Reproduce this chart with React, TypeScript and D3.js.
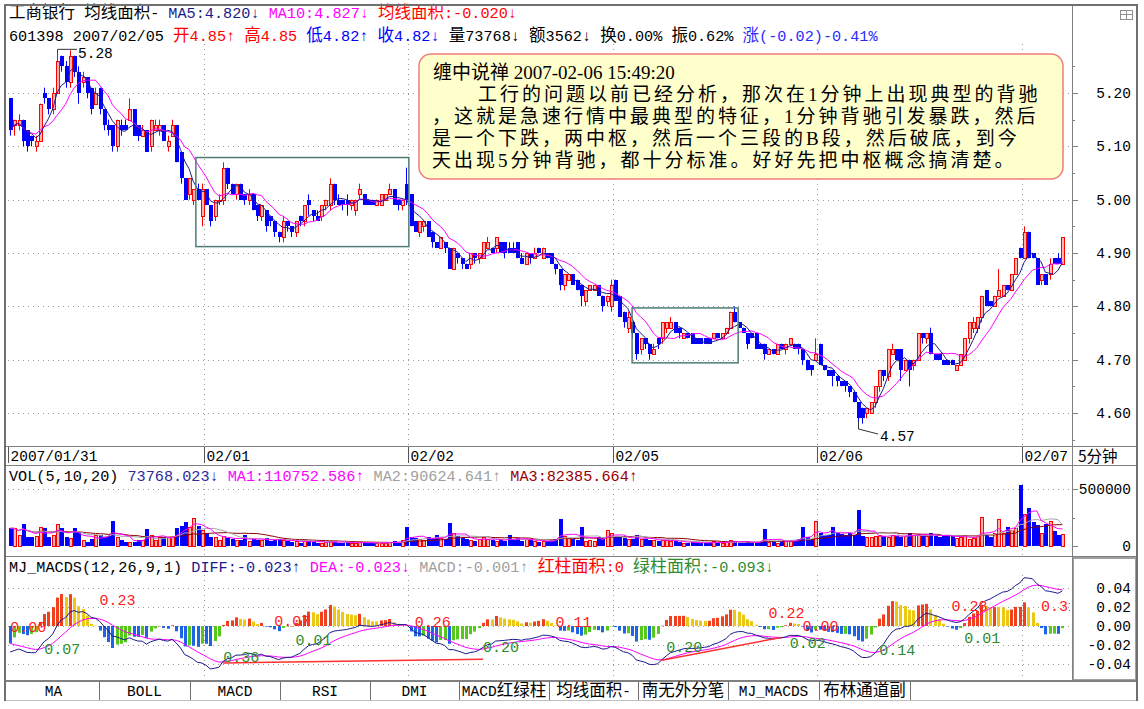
import React from "react";
import * as d3 from "d3";

// ---------- DATA (prices in cents) ----------
const OPEN = [519,514,514,515,513,512,510,511,520,519,517,520,527,525,522,527,524,522,523,521,518,521,517,514,514,510,514,514,515,517,514,512,513,510,513,513,514,510,512,514,509,504,501,500,502,497,502,499,497,500,500,506,503,501,503,501,500,501,499,497,498,497,496,494,493,496,495,494,497,496,500,498,497,497,499,499,503,500,500,500,499,498,501,501,500,500,499,499,500,501,502,500,499,503,501,496,494,495,496,494,492,491,492,491,487,490,489,488,488,490,489,489,491,491,491,492,492,491,491,492,489,488,490,489,491,489,490,490,488,487,484,485,486,485,484,481,483,483,484,482,481,480,485,482,479,476,477,475,472,474,473,471,474,474,476,476,477,476,474,475,475,474,474,474,474,474,475,474,475,476,479,477,476,475,475,475,473,473,471,472,471,473,472,473,473,473,472,470,469,470,473,469,468,468,467,466,466,465,464,462,461,460,460,462,465,468,467,471,472,472,468,470,469,470,475,474,475,471,471,470,470,470,468,469,470,474,476,476,478,483,481,480,482,482,484,483,486,491,489,494,490,489,485,486,486,489,489,488];
const HIGH = [519,515,516,515,513,512,512,518,521,519,521,528,527,526,528,527,525,524,523,521,521,521,517,515,514,515,515,515,519,517,514,514,513,515,515,515,514,512,515,514,509,504,504,502,503,503,502,499,500,501,507,506,503,503,503,501,502,501,499,499,498,497,496,494,497,496,495,496,497,499,501,498,498,499,500,504,503,501,500,501,500,500,503,501,500,500,500,501,501,503,502,500,500,506,501,496,496,496,496,494,492,493,492,491,491,490,489,488,490,490,490,492,493,491,493,492,492,492,492,492,490,490,490,491,491,491,490,490,488,487,486,486,486,485,484,483,484,484,484,482,482,485,485,482,479,479,477,475,474,474,473,473,474,477,477,478,477,476,475,475,475,474,474,474,474,475,475,475,476,479,480,477,476,475,475,475,473,473,472,472,473,473,473,474,473,473,472,470,469,474,473,469,468,468,467,466,466,465,464,462,461,461,462,465,468,468,472,473,472,472,470,470,470,475,475,475,476,471,471,470,470,470,469,471,474,477,478,478,482,483,481,482,487,484,484,486,489,491,495,494,490,489,486,486,489,489,490,493];
const LOW = [512,512,513,510,509,510,509,511,518,516,516,520,524,521,521,523,518,521,519,516,518,516,513,512,509,509,512,513,515,512,511,512,509,509,513,512,511,509,512,507,503,500,500,499,500,495,499,495,496,499,499,502,501,500,500,499,499,498,496,496,494,495,493,492,492,494,493,493,495,495,497,496,496,496,498,498,499,499,498,497,498,497,500,499,499,499,499,499,500,501,499,498,498,499,495,494,493,494,493,491,491,491,490,487,487,488,487,487,487,488,488,489,491,490,490,490,489,490,490,489,488,488,488,489,490,489,489,488,486,483,483,485,484,483,480,480,483,483,482,479,480,479,481,478,476,475,474,470,471,472,470,471,472,473,475,476,475,474,474,474,473,473,473,473,473,474,474,474,475,476,477,476,475,472,474,472,472,470,471,471,471,472,471,473,472,471,469,468,467,470,469,468,467,465,465,465,464,463,462,457,458,459,460,461,464,466,466,471,470,466,468,465,468,470,473,473,471,470,470,469,469,469,468,469,470,473,475,475,477,480,480,480,482,482,483,483,486,489,489,489,489,484,484,484,485,488,488,488];
const CLOSE = [513,515,515,511,510,511,511,518,519,517,520,526,525,522,527,524,520,523,520,517,520,517,514,513,510,515,513,513,517,512,512,513,509,515,514,514,511,511,514,507,504,500,504,502,500,502,499,496,500,500,506,503,501,503,500,500,501,498,497,499,495,496,494,493,496,495,494,496,496,499,499,497,496,499,500,503,500,499,499,499,500,500,502,499,499,499,500,501,501,502,499,499,500,500,495,494,496,496,493,492,491,493,491,487,491,489,488,487,490,489,490,492,492,490,493,490,490,490,490,489,488,490,489,490,490,491,489,488,487,484,486,486,484,483,482,483,484,484,482,480,482,484,481,478,477,478,475,471,474,473,471,472,473,477,477,477,475,475,475,474,473,473,473,473,473,475,474,475,476,479,477,476,475,473,474,472,472,471,472,471,473,472,473,474,472,472,470,468,468,471,469,468,467,467,466,465,465,464,462,459,459,461,462,465,468,467,472,472,470,468,470,468,470,475,474,475,471,470,470,469,469,469,469,471,474,477,477,478,482,480,480,482,483,484,483,486,489,489,494,489,489,484,486,484,488,488,488,493];
// volume in thousands of shares
const VOLUME_K = [155,155,96,193,82,82,90,164,155,76,96,190,155,82,67,155,126,53,38,58,96,96,76,88,219,82,53,38,38,38,53,53,146,96,53,76,76,76,76,155,175,213,164,243,175,140,111,82,82,53,90,70,60,55,50,96,45,60,55,50,70,45,50,60,55,40,35,45,30,50,45,35,30,28,32,45,40,30,28,32,25,28,35,30,25,28,22,30,28,35,40,30,50,164,80,70,60,55,75,60,95,70,65,199,110,85,70,60,55,45,60,75,65,55,45,50,40,96,55,70,45,60,55,40,35,45,40,50,60,234,90,70,60,55,164,45,50,40,75,70,140,110,90,75,70,60,60,96,65,60,55,50,45,55,50,45,40,35,30,30,35,25,25,30,28,40,30,25,35,55,40,30,30,40,28,30,38,146,35,40,30,45,55,40,45,60,164,75,60,222,110,100,96,164,110,105,96,110,96,316,90,80,75,90,96,88,80,96,90,80,85,111,96,105,90,88,111,90,80,85,96,90,70,75,96,60,70,90,251,96,80,110,234,110,164,140,160,535,281,330,213,184,111,193,222,134,96,105];

const DAY_LABELS = ["2007/01/31", "02/01", "02/02", "02/05", "02/06", "02/07"];
const DAY_START = [0, 46, 94, 142, 190, 238];
const PRICE_TICKS = [4.6, 4.7, 4.8, 4.9, 5.0, 5.1, 5.2];
const PRICE_MINOR = [4.55, 4.65, 4.75, 4.85, 4.95, 5.05, 5.15, 5.25];
const VOL_TICKS = [0, 500000];
const MACD_TICKS = [-0.04, -0.02, 0, 0.02, 0.04];
// pivot boxes: [startSlot, endSlot, top price, bottom price]
const PIVOT_BOXES = [[44.1, 94.1, 5.079, 4.912], [146.5, 171.4, 4.797, 4.694]];
// EMA12, EMA26, DEA at the start of the window
const MACD_SEED = [5.16, 5.187, -0.016];
// divergence lines: [bar, value, bar, value]
const DIVERGENCE = [[50, -0.039, 111, -0.035], [153, -0.036, 181, -0.012]];
const MACD_LABELS: [string, number, number, string][] = [
  ["0.00", 0, -0.001, "r"], ["0.07", 8, -0.024, "g"], ["0.23", 21, 0.027, "r"],
  ["0.36", 50, -0.033, "g"], ["0.07", 62, 0.005, "r"], ["0.01", 67, -0.015, "g"],
  ["0.26", 95, 0.004, "r"], ["0.20", 111, -0.022, "g"], ["0.11", 128, 0.004, "r"],
  ["0.20", 154, -0.022, "g"], ["0.22", 178, 0.014, "r"], ["0.02", 183, -0.0175, "g"],
  ["0.00", 186, 0.0, "r"], ["0.14", 204, -0.025, "g"], ["0.28", 221, 0.021, "r"],
  ["0.01", 224, -0.013, "g"], ["0.31", 242, 0.021, "r"],
];
const HEADER1: [string, string][] = [["工商银行 均线面积- ", "#000"], ["MA5:4.820↓ ", "#1a1a8c"], ["MA10:4.827↓ ", "#ff00ff"], ["均线面积:-0.020↓", "#ff0000"]];
const HEADER2: [string, string][] = [["601398 2007/02/05 ", "#000"], ["开4.85↑ 高4.85 ", "#ff0000"], ["低4.82↑ 收4.82↓ ", "#0000ff"], ["量73768↓ 额3562↓ 换0.00% 振0.62% ", "#000"], ["涨(-0.02)-0.41%", "#2a2aff"]];
const VOL_HEADER: [string, string][] = [["VOL(5,10,20) ", "#000"], ["73768.023↓ ", "#2c2c9c"], ["MA1:110752.586↑ ", "#ff00ff"], ["MA2:90624.641↑ ", "#a0a0a0"], ["MA3:82385.664↑", "#9a0000"]];
const MACD_HEADER: [string, string][] = [["MJ_MACDS(12,26,9,1) ", "#000"], ["DIFF:-0.023↑ ", "#1a1a8c"], ["DEA:-0.023↓ ", "#ff00ff"], ["MACD:-0.001↑ ", "#a0a0a0"], ["红柱面积:0 ", "#ff0000"], ["绿柱面积:-0.093↓", "#2e8b2e"]];
const TABS = ["MA", "BOLL", "MACD", "RSI", "DMI", "MACD红绿柱", "均线面积-", "南无外分笔", "MJ_MACDS", "布林通道副"];
const TAB_EDGES = [8, 99, 190, 280, 370, 459, 549, 638, 728, 819, 910];
const NOTE_LINES = [
  "缠中说禅 2007-02-06 15:49:20",
  "工行的问题以前已经分析，那次在1分钟上出现典型的背驰",
  "，这就是急速行情中最典型的特征，1分钟背驰引发暴跌，然后",
  "是一个下跌，两中枢，然后一个三段的B段，然后破底，到今",
  "天出现5分钟背驰，都十分标准。好好先把中枢概念搞清楚。",
];

const MONO = "'Liberation Mono','DejaVu Sans Mono',monospace";
const CJK = "'Noto Sans CJK SC',sans-serif";
const SERIF = "'Liberation Serif','Noto Sans CJK SC',serif";
const GRID = "#9a9a9a";
const FRAME = "#808080";
const RED = "#ff0000";
const PINK = "#ffb4b4";
const BLUE = "#0000ff";
const CJK_RE = /[\u3000-\u9fff\uff00-\uffef]/;

function sma(arr: number[], n: number) {
  return arr.map((_, i) => d3.mean(arr.slice(Math.max(0, i - n + 1), i + 1)) as number);
}

// split a label into latin / CJK runs so each gets its own font
function runs(s: string, fill: string, ascii: number, cjk: number, key: string) {
  const parts = s.match(/[\u3000-\u9fff\uff00-\uffef]+|[^\u3000-\u9fff\uff00-\uffef]+/g) || [];
  return parts.map((p, k) => {
    const isC = CJK_RE.test(p[0]);
    return (
      <tspan key={key + k} fill={fill} fontSize={isC ? cjk : ascii} fontFamily={isC ? CJK : MONO}>{p}</tspan>
    );
  });
}

export default function App() {
  const N = CLOSE.length;
  const SLOT = 4.26;
  const xs = d3.scaleLinear().domain([0, N]).range([8, 8 + N * SLOT]);
  const cx = (i: number) => Math.round(xs(i + 0.5));
  const yP = d3.scaleLinear().domain([4.6, 5.2]).range([413, 93]);
  const yV = d3.scaleLinear().domain([0, 500000]).range([546, 489]);
  const yM = d3.scaleLinear().domain([-0.04, 0.04]).range([664, 588]);

  const o = OPEN.map((v) => v / 100);
  const h = HIGH.map((v) => v / 100);
  const l = LOW.map((v) => v / 100);
  const c = CLOSE.map((v) => v / 100);
  const vol = VOLUME_K.map((v) => v * 1000);
  const ma5 = sma(c, 5);
  const ma10 = sma(c, 10);
  const vma5 = sma(vol, 5);
  const vma10 = sma(vol, 10);
  const vma20 = sma(vol, 20);

  let e12 = MACD_SEED[0], e26 = MACD_SEED[1], dea = MACD_SEED[2];
  const diff: number[] = [], deaA: number[] = [], macd: number[] = [];
  c.forEach((p) => {
    e12 = (2 * p + 11 * e12) / 13;
    e26 = (2 * p + 25 * e26) / 27;
    const d = e12 - e26;
    dea = (2 * d + 8 * dea) / 10;
    diff.push(d);
    deaA.push(dea);
    macd.push(2 * (d - dea));
  });

  const lineP = (arr: number[]) => d3.line<number>().x((_, i) => xs(i + 0.5)).y((v) => yP(v))(arr) as string;
  const lineV = (arr: number[]) => d3.line<number>().x((_, i) => xs(i + 0.5)).y((v) => yV(v))(arr) as string;
  const lineM = (arr: number[]) => d3.line<number>().x((_, i) => xs(i + 0.5)).y((v) => yM(v))(arr) as string;

  const right = 1072;
  const dayX = DAY_START.map((s) => Math.round(xs(s)) + 0.5);

  const hiIdx = h.indexOf(d3.max(h) as number);
  const loIdx = l.indexOf(d3.min(l) as number);

  const histColor = (i: number) => {
    const m = macd[i];
    const p = i > 0 ? macd[i - 1] : m;
    if (m >= 0) return m >= p ? "#f0401e" : "#ecc814";
    return m <= p ? "#1e64e6" : "#56c81c";
  };

  return (
    <svg width={1144} height={709} style={{ position: "absolute", left: 0, top: 0, background: "#fff" }} fontFamily={MONO}>
      <defs>
        <clipPath id="cpMain"><rect x={6} y={44} width={right - 6} height={402} /></clipPath>
        <clipPath id="cpVol"><rect x={6} y={484} width={right - 6} height={72} /></clipPath>
        <clipPath id="cpMacd"><rect x={6} y={575} width={right - 8} height={105} /></clipPath>
      </defs>
      <rect x={0} y={0} width={1144} height={709} fill="#fff" />

      {/* ---------- header ---------- */}
      <text x={9} y={18}>{HEADER1.flatMap(([s, f], k) => runs(s, f, 15.2, 16.5, "h1" + k))}</text>
      <text x={9} y={41}>{HEADER2.flatMap(([s, f], k) => runs(s, f, 15.2, 16.5, "h2" + k))}</text>

      {/* ---------- price grid ---------- */}
      {PRICE_TICKS.map((t) => (
        <line key={"pg" + t} x1={8} x2={right} y1={Math.round(yP(t)) + 0.5} y2={Math.round(yP(t)) + 0.5} stroke={GRID} strokeDasharray="1,4" />
      ))}
      {dayX.slice(1).map((x, k) => (
        <g key={"vg" + k}>
          <line x1={x} x2={x} y1={44} y2={446} stroke={GRID} strokeDasharray="1,4" />
          <line x1={x} x2={x} y1={484} y2={556} stroke={GRID} strokeDasharray="1,4" />
          <line x1={x} x2={x} y1={575} y2={681} stroke={GRID} strokeDasharray="1,4" />
        </g>
      ))}

      {/* ---------- candles ---------- */}
      <g clipPath="url(#cpMain)">
        {c.map((cl, i) => {
          const up = cl >= o[i];
          const x = cx(i);
          const top = Math.round(yP(Math.max(o[i], cl)));
          const bot = Math.round(yP(Math.min(o[i], cl)));
          const col = up ? RED : BLUE;
          return (
            <g key={"k" + i}>
              <line x1={x + 0.5} x2={x + 0.5} y1={yP(h[i])} y2={yP(l[i])} stroke={col} />
              {up ? (
                <rect x={x - 0.5} y={top + 0.5} width={3} height={Math.max(1, bot - top)} fill={PINK} stroke={col} />
              ) : (
                <rect x={x - 1} y={top} width={4} height={Math.max(1, bot - top)} fill={col} />
              )}
            </g>
          );
        })}
        <path d={lineP(ma10)} fill="none" stroke="#ff00ff" strokeWidth={1} />
        <path d={lineP(ma5)} fill="none" stroke="#1a1a8c" strokeWidth={1} />
        {PIVOT_BOXES.map((b, k) => (
          <rect key={"bx" + k} x={xs(b[0])} y={yP(b[2])} width={xs(b[1]) - xs(b[0])} height={yP(b[3]) - yP(b[2])} fill="none" stroke="#4f7d76" strokeWidth={1.5} />
        ))}
        {/* high / low markers */}
        <path d={`M${cx(hiIdx) + 0.5},${yP(h[hiIdx]) + 2} V${yP(h[hiIdx]) - 1} H${cx(hiIdx) + 20}`} fill="none" stroke="#333" />
        <text x={cx(hiIdx) + 21} y={yP(h[hiIdx]) + 8} fontSize={14.5} fill="#000">{(h[hiIdx]).toFixed(2)}</text>
        <path d={`M${cx(loIdx) + 0.5},${yP(l[loIdx]) - 8} V${yP(l[loIdx])} L${cx(loIdx) + 20},${yP(l[loIdx]) + 5}`} fill="none" stroke="#333" />
        <text x={cx(loIdx) + 22} y={yP(l[loIdx]) + 12} fontSize={14.5} fill="#000">{(l[loIdx]).toFixed(2)}</text>
      </g>

      {/* ---------- note box ---------- */}
      <rect x={419} y={54} width={644} height={125} rx={12} fill="#ffffcc" stroke="#f07c7c" strokeWidth={1.5} />
      <text x={433} y={79} fontSize={19} fontFamily={SERIF} fill="#000">{NOTE_LINES[0]}</text>
      {NOTE_LINES.slice(1).map((t, k) => (
        <text key={"nl" + k} x={k === 0 ? 478 : 432} y={101 + k * 22} fontSize={19} fontFamily={SERIF} letterSpacing={3} fill="#000">{t}</text>
      ))}

      {/* ---------- price axis ---------- */}
      {PRICE_TICKS.map((t) => (
        <g key={"pt" + t}>
          <line x1={right} x2={right + 6} y1={Math.round(yP(t)) + 0.5} y2={Math.round(yP(t)) + 0.5} stroke={FRAME} />
          <text x={1131} y={yP(t) + 5} fontSize={14.5} textAnchor="end" fill="#000">{t.toFixed(2)}</text>
        </g>
      ))}
      {PRICE_MINOR.map((t) => (
        <line key={"pm" + t} x1={right} x2={right + 3} y1={Math.round(yP(t)) + 0.5} y2={Math.round(yP(t)) + 0.5} stroke={FRAME} />
      ))}

      {/* ---------- date row ---------- */}
      <line x1={5} x2={1137} y1={446.5} y2={446.5} stroke={FRAME} />
      <line x1={5} x2={1137} y1={465.5} y2={465.5} stroke={FRAME} />
      {DAY_LABELS.map((d, k) => (
        <g key={"dl" + k}>
          <line x1={dayX[k]} x2={dayX[k]} y1={447} y2={463} stroke="#555" />
          <text x={dayX[k] + 2} y={461} fontSize={14.5} fill="#000">{d}</text>
        </g>
      ))}
      <text x={1078} y={462} fontSize={15.5} fontFamily={CJK} fill="#000">5分钟</text>

      {/* ---------- volume panel ---------- */}
      <text x={9} y={481}>{VOL_HEADER.flatMap(([s, f], k) => runs(s, f, 15.2, 17, "vh" + k))}</text>
      <line x1={8} x2={right} y1={Math.round(yV(500000)) + 0.5} y2={Math.round(yV(500000)) + 0.5} stroke={GRID} strokeDasharray="1,4" />
      <g clipPath="url(#cpVol)">
        {vol.map((v, i) => {
          const up = c[i] >= o[i];
          const x = cx(i);
          const top = Math.round(yV(v));
          return up ? (
            <rect key={"v" + i} x={x - 0.5} y={top + 0.5} width={3} height={yV(0) - top} fill={PINK} stroke={RED} />
          ) : (
            <rect key={"v" + i} x={x - 1} y={top} width={4} height={yV(0) - top} fill={BLUE} />
          );
        })}
        <path d={lineV(vma20)} fill="none" stroke="#8b0000" />
        <path d={lineV(vma10)} fill="none" stroke="#a8a8a8" />
        <path d={lineV(vma5)} fill="none" stroke="#ff00ff" />
      </g>
      {VOL_TICKS.map((t) => (
        <g key={"vt" + t}>
          <line x1={right} x2={right + 6} y1={Math.round(yV(t)) + 0.5} y2={Math.round(yV(t)) + 0.5} stroke={FRAME} />
          <text x={1131} y={yV(t) + 5} fontSize={14.5} textAnchor="end" fill="#000">{String(t)}</text>
        </g>
      ))}
      <line x1={right} x2={right + 3} y1={Math.round(yV(250000)) + 0.5} y2={Math.round(yV(250000)) + 0.5} stroke={FRAME} />
      <line x1={5} x2={1137} y1={556.5} y2={556.5} stroke={FRAME} />

      {/* ---------- MACD panel ---------- */}
      <text x={9} y={572}>{MACD_HEADER.flatMap(([s, f], k) => runs(s, f, 15.2, 17, "mh" + k))}</text>
      {MACD_TICKS.map((t) => (
        <line key={"mg" + t} x1={8} x2={right} y1={Math.round(yM(t)) + 0.5} y2={Math.round(yM(t)) + 0.5} stroke={GRID} strokeDasharray="1,4" />
      ))}
      <g clipPath="url(#cpMacd)">
        {macd.map((m, i) => {
          const x = cx(i);
          const y0 = yM(0);
          const y1 = yM(m);
          return <rect key={"m" + i} x={x - 1} y={Math.min(y0, y1)} width={3} height={Math.max(0.5, Math.abs(y1 - y0))} fill={histColor(i)} />;
        })}
        <path d={lineM(deaA)} fill="none" stroke="#ff00ff" />
        <path d={lineM(diff)} fill="none" stroke="#1a1a8c" />
        {DIVERGENCE.map((d, k) => (
          <line key={"dv" + k} x1={xs(d[0] + 0.5)} y1={yM(d[1])} x2={xs(d[2] + 0.5)} y2={yM(d[3])} stroke="#ff3030" strokeWidth={1.5} />
        ))}
        {MACD_LABELS.map(([t, i, v, col], k) => (
          <text key={"ml" + k} x={xs(i + 0.5)} y={yM(v) + 5} fontSize={15} fill={col === "r" ? "#ff2020" : "#2e8b2e"}>{t}</text>
        ))}
      </g>
      {MACD_TICKS.map((t) => (
        <text key={"mt" + t} x={1131} y={yM(t) + 5} fontSize={14.5} textAnchor="end" fill="#000">{t.toFixed(2)}</text>
      ))}
      <rect x={1073} y={558} width={63} height={122} fill="none" stroke="#a0a0a0" strokeWidth={2} />
      <line x1={5} x2={1137} y1={681} y2={681} stroke={FRAME} strokeWidth={2} />

      {/* ---------- tabs ---------- */}
      {TABS.map((t, k) => (
        <g key={"tb" + k}>
          <line x1={TAB_EDGES[k + 1] + 0.5} x2={TAB_EDGES[k + 1] + 0.5} y1={682} y2={700} stroke="#707070" />
          <text x={(TAB_EDGES[k] + TAB_EDGES[k + 1]) / 2} y={696} textAnchor="middle" fill="#000">{runs(t, "#000", 14.5, 16.5, "tb" + k)}</text>
        </g>
      ))}
      <line x1={5} x2={1137} y1={700.5} y2={700.5} stroke="#c0c0c0" />

      {/* ---------- frame ---------- */}
      <line x1={right + 0.5} x2={right + 0.5} y1={5} y2={681} stroke={FRAME} />
      <line x1={4} x2={1138} y1={5} y2={5} stroke="#707070" strokeWidth={2} />
      <line x1={5} x2={5} y1={4} y2={701} stroke="#707070" strokeWidth={2} />
      <line x1={1137} x2={1137} y1={4} y2={701} stroke="#707070" strokeWidth={2} />
      <rect x={1120.5} y={10.5} width={12} height={9} fill="#fff" stroke="#909090" />
      <line x1={1126.5} x2={1126.5} y1={10} y2={20} stroke="#909090" />
      <line x1={1120} x2={1133} y1={14.5} y2={14.5} stroke="#909090" />
    </svg>
  );
}
